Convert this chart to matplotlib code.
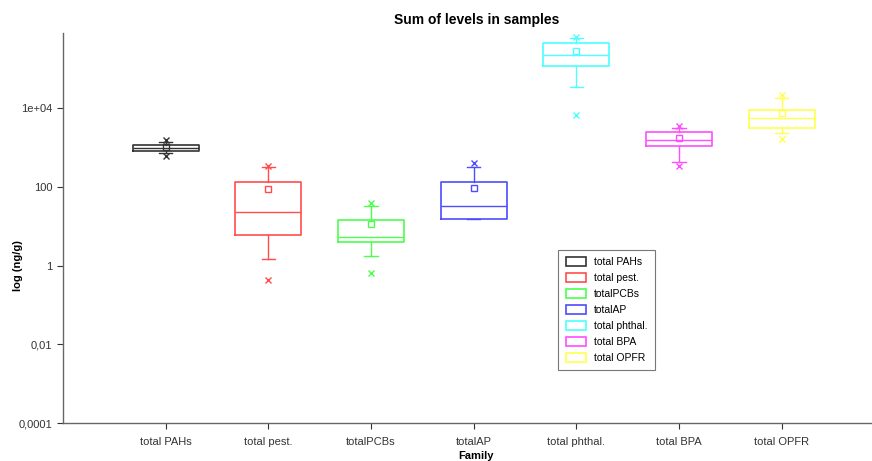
import matplotlib
matplotlib.use("Agg")
import matplotlib.pyplot as plt
from matplotlib.patches import Patch

plt.rcParams["font.family"] = ["Liberation Sans", "DejaVu Sans"]

categories = ["total PAHs", "total pest.", "totalPCBs", "totalAP",
              "total phthal.", "total BPA", "total OPFR"]
q1 = [830, 5.8, 4.0, 15.6, 119000, 1090, 3180]
median = [990, 23, 5.4, 33, 226000, 1515, 5610]
q3 = [1180, 133, 14.7, 133, 437000, 2470, 9110]
whis_lo = [700, 1.48, 1.7, 15.6, 34300, 428, 2330]
whis_hi = [1350, 320, 33, 320, 612000, 3180, 18000]
means = [1000, 90, 11.2, 94, 275000, 1745, 7340]
fliers = [[1580, 590], [346, 0.43], [39, 0.65], [404], [635000, 6680],
          [3430, 339], [21500, 1640]]
colors = ["#333333", "#ff4d4d", "#4dff4d", "#4d4dff", "#4dffff", "#ff4dff", "#ffff4d"]
ytick_vals = [1e-4, 1e-2, 1, 100, 1e4]
ytick_labels = ["0,0001", "0,01", "1", "100", "1e+04"]

fig = plt.figure(figsize=(8.72, 4.61), dpi=100)
ax = fig.add_axes([63/872, 38/461, 809/872, 390/461])

for i, c in enumerate(colors):
    stats = [dict(q1=q1[i], med=median[i], q3=q3[i], whislo=whis_lo[i],
                  whishi=whis_hi[i], mean=means[i], fliers=fliers[i])]
    ax.bxp(stats, positions=[i], widths=0.64, showmeans=True, manage_ticks=False,
           boxprops=dict(color=c, linewidth=1.2),
           medianprops=dict(color=c, linewidth=1.0),
           whiskerprops=dict(color=c, linewidth=1.0),
           capprops=dict(color=c, linewidth=1.0),
           capwidths=0.13,
           meanprops=dict(marker="s", markerfacecolor="none", markeredgecolor=c,
                          markersize=4, markeredgewidth=1.0),
           flierprops=dict(marker="x", markeredgecolor=c, markersize=5,
                           markeredgewidth=1.0))

ax.set_yscale("log")
ax.set_ylim(1e-4, 10**5.905)
ax.set_xlim(-1, 6.88)
ax.set_yticks(ytick_vals)
ax.set_yticklabels(ytick_labels)
ax.yaxis.set_minor_locator(matplotlib.ticker.NullLocator())
ax.set_xticks(range(len(categories)))
ax.set_xticklabels(categories)
ax.tick_params(axis="both", labelsize=8, colors="#333333", length=4, width=0.8)
ax.tick_params(axis="x", pad=6)
for s in ["top", "right"]:
    ax.spines[s].set_visible(False)
for s in ["left", "bottom"]:
    ax.spines[s].set_color("#666666")
    ax.spines[s].set_linewidth(1.0)

fig.text(18/872, 1 - 266/461, "log (ng/g)", rotation=90, ha="center", va="center",
         fontsize=8, fontweight="bold")
fig.text(476/872, 1 - 456/461, "Family", ha="center", va="center",
         fontsize=8, fontweight="bold")
fig.text(477/872, 1 - 20/461, "Sum of levels in samples", ha="center", va="center",
         fontsize=10, fontweight="bold")

handles = [Patch(facecolor="white", edgecolor=c, linewidth=1.2, label=l)
           for c, l in zip(colors, categories)]
leg = ax.legend(handles=handles, loc="upper left", bbox_to_anchor=(0.606, 0.458),
                fontsize=7.5, frameon=True, fancybox=False, edgecolor="#555555",
                handlelength=1.9, handleheight=0.9, labelspacing=0.58,
                borderpad=0.7, handletextpad=0.8)
leg.get_frame().set_linewidth(0.8)

fig.savefig("out.png", dpi=100)
